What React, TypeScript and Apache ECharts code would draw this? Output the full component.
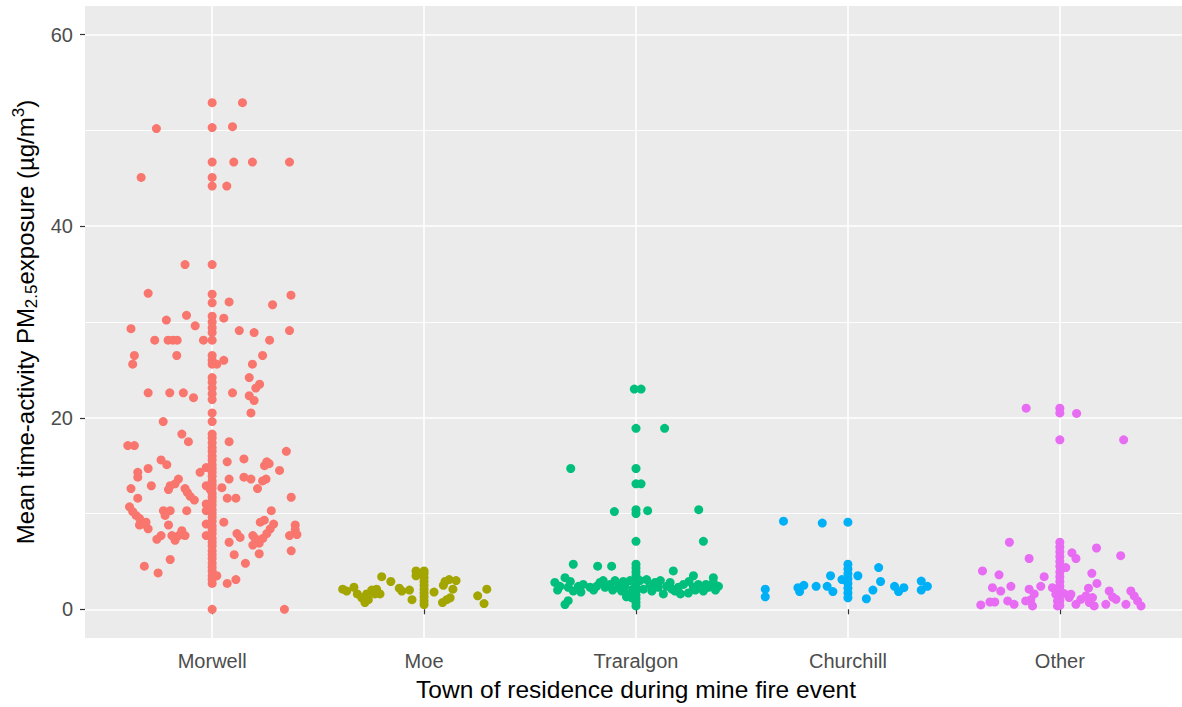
import React, { useEffect, useRef } from "react";
import * as echarts from "echarts";

const towns = ["Morwell", "Moe", "Traralgon", "Churchill", "Other"];
const townColors = ["#F8766D", "#A3A500", "#00BF7D", "#00B0F6", "#E76BF3"];
const yTicks = [0, 20, 40, 60];
const yMinor = [10, 30, 50];
const xTitle = "Town of residence during mine fire event";

// [jitter offset from category centre, PM2.5 value]
const morwell: [number, number][] = [
  [0, 52.9], [0.143, 52.9], [-0.263, 50.2], [0, 50.3], [0.096, 50.4], [0, 46.7], [0.102, 46.7], [0.19, 46.7],
  [0.365, 46.7], [-0.335, 45.1], [0, 45.1], [0, 44.2], [0.069, 44.2],
  [-0.128, 36.0], [0, 36.0], [-0.302, 33.0], [0, 32.9], [0.372, 32.8], [0, 32.0], [0.08, 32.1], [0.285, 31.8],
  [-0.121, 30.7], [-0.216, 30.2], [0, 30.6], [0, 30.0], [0, 29.4], [0, 28.9], [0.055, 30.4], [-0.08, 29.6],
  [-0.383, 29.3], [0.128, 29.1], [0.198, 28.9], [0.365, 29.1], [-0.271, 28.1], [-0.208, 28.1], [-0.185, 28.1],
  [-0.165, 28.1], [-0.041, 28.1], [0, 28.1], [0.271, 28.1], [-0.367, 26.5], [-0.375, 25.6], [-0.167, 26.5],
  [0, 26.5], [0, 26.0], [0, 25.6], [0.022, 25.6], [0.055, 26.0], [0.238, 26.5], [0.19, 25.6], [0, 24.2],
  [0.175, 24.2], [0.224, 23.5], [0.206, 23.1], [0, 23.7], [0, 23.1], [0, 22.5], [0, 21.9], [-0.302, 22.6],
  [-0.2, 22.6], [-0.136, 22.6], [-0.088, 22.1], [0.096, 22.6], [0.175, 22.3], [0.198, 21.8], [0, 20.5],
  [0.183, 20.5], [-0.231, 19.6], [0, 19.6],
  [-0.143, 18.3], [0, 18.3], [-0.398, 17.1], [-0.367, 17.1], [-0.112, 17.5], [0.08, 17.5], [0.35, 16.5],
  [0.15, 15.7], [0.071, 15.4], [-0.241, 15.6], [-0.214, 15.1], [0.258, 15.4], [0.269, 15.2], [0.247, 15.0],
  [-0.302, 14.7], [-0.351, 14.3], [-0.351, 13.8], [0.318, 14.5], [-0.057, 14.3], [-0.028, 14.8], [0.15, 13.8],
  [0.183, 13.6], [0.254, 13.6], [0.238, 13.4], [-0.159, 13.6], [-0.175, 13.1], [0.08, 13.6], [-0.287, 12.9],
  [-0.198, 12.9], [-0.206, 12.5], [-0.028, 12.9], [-0.009, 12.5], [0.046, 12.7], [-0.383, 12.6], [-0.128, 12.6],
  [-0.117, 12.2], [-0.104, 11.8], [0.214, 12.6], [-0.084, 11.4], [-0.351, 11.6], [0.071, 11.6], [0.112, 11.6],
  [0.373, 11.7], [-0.39, 10.7], [-0.375, 10.2], [-0.359, 9.8], [-0.23, 10.3], [-0.198, 10.3], [-0.222, 9.8],
  [-0.12, 10.3], [-0.028, 10.3], [0.279, 10.3], [-0.343, 9.5], [-0.327, 8.9], [-0.343, 8.8], [-0.312, 9.1],
  [-0.302, 8.4], [-0.206, 8.8], [0.055, 9.1], [0.227, 9.1], [0.246, 9.3], [0.29, 8.9], [0.274, 8.4],
  [0.258, 7.9], [0.392, 8.8], [0.392, 8.3], [0.365, 7.7], [0.4, 7.8], [-0.241, 7.7], [-0.261, 7.3],
  [-0.19, 7.7], [-0.175, 7.2], [-0.143, 8.2], [-0.128, 7.7], [-0.158, 7.7], [0.117, 7.9], [0.132, 7.5],
  [0.192, 7.7], [0.203, 7.4], [0.222, 6.9], [0.239, 7.4], [0.08, 7.0], [-0.028, 7.7], [-0.028, 8.9],
  [-0.028, 11.0], [0.192, 6.7], [0.373, 6.1], [0.104, 5.7], [0.222, 5.8], [-0.198, 5.2], [0.157, 4.8],
  [-0.32, 4.5], [-0.255, 3.8], [0.022, 3.5], [0.071, 2.7], [0.112, 3.1], [0, 0], [0.341, 0],
  [0, 17.9], [0, 17.4], [0, 16.9], [0, 16.5], [0, 16.0], [0, 15.6], [0, 15.1], [0, 14.7], [0, 14.3], [0, 13.9],
  [0, 13.4], [0, 13.0], [0, 12.6], [0, 12.1], [0, 11.7], [0, 11.3], [0, 10.9], [0, 10.4], [0, 10.0], [0, 9.6],
  [0, 9.2], [0, 8.7], [0, 8.3], [0, 7.9], [0, 7.4], [0, 7.0], [0, 6.6], [0, 6.1], [0, 5.7], [0, 5.3], [0, 4.8],
  [0, 4.4], [0, 4.0], [0, 3.5], [0, 3.1], [0, 2.7],
];

const moe: [number, number][] = [
  [-0.384, 2.1], [-0.365, 1.9], [-0.331, 2.3], [-0.315, 1.6], [-0.294, 1.2], [-0.279, 0.7], [-0.263, 1.0],
  [-0.271, 1.6], [-0.247, 2.0], [-0.224, 2.1], [-0.208, 1.6], [-0.232, 1.6], [-0.2, 3.4], [-0.157, 2.9],
  [-0.117, 2.2], [-0.105, 1.9], [-0.069, 2.0], [-0.057, 1.0], [-0.038, 4.0], [-0.038, 3.5], [0, 4.0], [0, 3.7],
  [0, 3.3], [0, 2.9], [0, 2.5], [0, 2.1], [0, 1.7], [0, 1.3], [0, 0.9], [0, 0.5], [0.047, 1.8], [0.099, 2.9],
  [0.118, 3.1], [0.151, 3.0], [0.091, 2.5], [0.136, 2.1], [0.087, 0.7], [0.107, 1.0], [0.123, 1.2],
  [0.296, 2.1], [0.253, 1.4], [0.283, 0.6],
];

const traralgon: [number, number][] = [
  [-0.008, 23.0], [0.024, 23.0], [0, 18.9], [0.135, 18.9], [-0.308, 14.7], [0, 14.7], [0, 13.1], [0.024, 13.1],
  [-0.102, 10.2], [0, 10.4], [0, 10.0], [0.055, 10.3], [0.296, 10.4], [0, 7.1], [0.318, 7.1],
  [-0.296, 4.7], [-0.181, 4.5], [-0.115, 4.5], [0, 4.7], [0.176, 4.0], [0.271, 3.5], [0.365, 3.3],
  [-0.335, 0.5], [-0.32, 0.9], [0, 0.35],
  [-0.383, 2.8], [-0.359, 2.4], [-0.335, 3.3], [-0.32, 2.3], [-0.296, 1.9], [-0.272, 2.4], [-0.249, 2.6],
  [-0.217, 2.3], [-0.186, 2.4], [-0.17, 2.8], [-0.146, 2.3], [-0.123, 2.6], [-0.099, 3.0], [-0.083, 2.3],
  [-0.068, 1.9], [-0.052, 2.4], [-0.036, 1.6], [-0.028, 3.0], [0.019, 3.0], [0.05, 3.1], [0.066, 2.6],
  [0.09, 2.8], [0.105, 2.3], [0.129, 1.6], [0.145, 2.4], [0.161, 2.8], [0.184, 1.9], [0.2, 2.3], [0.224, 2.6],
  [0.247, 1.7], [0.271, 2.3], [0.294, 2.6], [0.318, 1.9], [0.342, 2.3], [0.365, 2.8], [0.389, 2.4],
  [-0.37, 2.0], [-0.31, 2.9], [-0.26, 1.8], [-0.2, 2.0], [-0.155, 3.0], [-0.11, 2.0], [-0.06, 2.9],
  [-0.045, 1.3], [0.035, 2.1], [0.075, 1.9], [0.115, 3.0], [0.17, 2.1], [0.21, 1.6], [0.25, 2.9], [0.28, 2.0],
  [0.33, 2.6], [0.375, 2.0], [-0.02, 1.2], [-0.015, 2.1],
  [0, 4.3], [0, 3.9], [0, 3.5], [0, 3.1], [0, 2.7], [0, 2.3], [0, 1.9], [0, 1.5], [0, 1.1], [0, 0.7],
];

const churchill: [number, number][] = [
  [-0.304, 9.2], [-0.121, 9.0], [0, 9.1], [0, 4.7], [0.145, 4.35], [-0.082, 3.5], [0.047, 3.5], [-0.028, 3.1],
  [0.154, 2.9], [-0.39, 2.1], [-0.39, 1.3], [-0.236, 2.26], [-0.208, 2.5], [-0.228, 1.85], [-0.15, 2.4],
  [-0.098, 2.4], [-0.071, 1.85], [0, 4.2], [0, 3.7], [0, 3.2], [0, 2.7], [0, 2.2], [0, 1.7], [0, 1.2],
  [0.118, 2.0], [0.087, 1.1], [0.22, 2.4], [0.239, 1.85], [0.264, 2.26], [0.346, 2.95], [0.375, 2.4],
  [0.346, 2.0],
];

const other: [number, number][] = [
  [-0.159, 21.0], [0, 21.0], [0, 20.5], [0.079, 20.45], [0, 17.7], [0.301, 17.7], [-0.238, 7.0], [0, 7.0],
  [0, 6.5], [0, 6.0], [0.057, 5.9], [0.076, 5.3], [0.173, 6.4], [0.287, 5.6], [-0.145, 5.3], [0, 5.5], [0, 5.0],
  [0, 4.5], [0.028, 4.35], [-0.365, 4.0], [-0.287, 3.6], [-0.074, 3.4], [0.151, 3.75], [0, 3.9], [0, 3.4],
  [0.175, 2.7], [0.135, 2.2], [-0.318, 2.26], [-0.279, 1.9], [-0.231, 2.4], [-0.09, 2.4], [-0.145, 2.1],
  [-0.121, 1.6], [-0.137, 1.0], [-0.373, 0.45], [-0.33, 0.76], [-0.307, 0.76], [-0.246, 0.87], [-0.216, 0.52],
  [-0.161, 0.87], [-0.129, 0.35], [-0.035, 2.26], [-0.019, 1.57], [-0.011, 0.87], [-0.011, 0.35], [0, 2.9],
  [0, 2.4], [0, 1.9], [0, 1.4], [0, 0.9], [0, 0.4], [0.02, 1.64], [0.044, 1.22], [0.052, 1.57], [0.076, 0.52],
  [0.099, 1.04], [0.123, 1.39], [0.139, 0.7], [0.154, 1.22], [0.162, 0.35], [0.217, 0.52], [0.233, 1.91],
  [0.249, 1.28], [0.265, 1.04], [0.312, 0.52], [0.335, 1.91], [0.351, 1.39], [0.367, 0.87], [0.383, 0.35],
];

const groups = [morwell, moe, traralgon, churchill, other];
const FONT = "'Liberation Sans', Arial, Helvetica, sans-serif";

export default function App() {
  const ref = useRef<HTMLDivElement>(null);

  useEffect(() => {
    document.body.style.margin = "0";
    const chart = echarts.init(ref.current as HTMLDivElement, null, { renderer: "svg" });
    const xTickVals = towns.map((_, i) => i + 1);

    const scatterSeries = groups.map((pts, i) => ({
      name: towns[i],
      type: "scatter",
      z: 3,
      symbol: "circle",
      symbolSize: 9,
      itemStyle: { color: townColors[i], opacity: 1 },
      data: pts.map(([off, v]) => [i + 1 + off, v]),
    }));

    chart.setOption({
      animation: false,
      textStyle: { fontFamily: FONT },
      grid: {
        left: 85,
        top: 6,
        width: 1102,
        height: 632,
        show: true,
        backgroundColor: "#EBEBEB",
        borderWidth: 0,
        containLabel: false,
        outerBoundsMode: "none",
      },
      xAxis: {
        type: "value",
        min: 0.4,
        max: 5.6,
        axisLine: { show: false },
        axisTick: {
          show: true,
          customValues: xTickVals,
          length: 5,
          lineStyle: { color: "#333333", width: 1.2 },
        },
        axisLabel: {
          customValues: xTickVals,
          formatter: (v: number) => towns[Math.round(v) - 1] ?? "",
          color: "#4D4D4D",
          fontSize: 20,
          margin: 13,
          fontFamily: FONT,
        },
        splitLine: { show: true, lineStyle: { color: "#FFFFFF", width: 1.6 } },
      },
      yAxis: {
        type: "value",
        min: -3,
        max: 63,
        axisLine: { show: false },
        axisTick: {
          show: true,
          customValues: yTicks,
          length: 5,
          lineStyle: { color: "#333333", width: 1.2 },
        },
        axisLabel: {
          customValues: yTicks,
          formatter: (v: number) => String(v),
          color: "#4D4D4D",
          fontSize: 20,
          margin: 12,
          fontFamily: FONT,
        },
        splitLine: { show: true, lineStyle: { color: "#FFFFFF", width: 1.6 } },
      },
      graphic: [
        {
          type: "text",
          x: 636,
          y: 689,
          style: {
            text: xTitle,
            fontSize: 24.5,
            fontFamily: FONT,
            fill: "#000000",
            align: "center",
            verticalAlign: "middle",
          },
        },
        {
          type: "text",
          x: 25,
          y: 322,
          rotation: Math.PI / 2,
          style: {
            text: "{m|Mean time-activity PM}{s|2.5}{m|exposure (µg/m}{p|3}{m|)}",
            fontFamily: FONT,
            fill: "#000000",
            align: "center",
            verticalAlign: "middle",
            rich: {
              m: { fontSize: 24, lineHeight: 30, fontFamily: FONT, fill: "#000000", verticalAlign: "middle" },
              s: { fontSize: 17, lineHeight: 17, fontFamily: FONT, fill: "#000000", verticalAlign: "bottom" },
              p: { fontSize: 17, lineHeight: 17, fontFamily: FONT, fill: "#000000", verticalAlign: "top" },
            },
          },
        },
      ],
      series: [
        {
          name: "minor-grid",
          type: "scatter",
          z: 1,
          silent: true,
          data: [],
          markLine: {
            z: 1,
            silent: true,
            symbol: ["none", "none"],
            label: { show: false },
            lineStyle: { color: "#FFFFFF", width: 0.9, type: "solid" },
            data: yMinor.map((v) => ({ yAxis: v })),
          },
        },
        ...scatterSeries,
      ],
    });

    return () => chart.dispose();
  }, []);

  return <div ref={ref} style={{ width: 1182, height: 707 }} />;
}
